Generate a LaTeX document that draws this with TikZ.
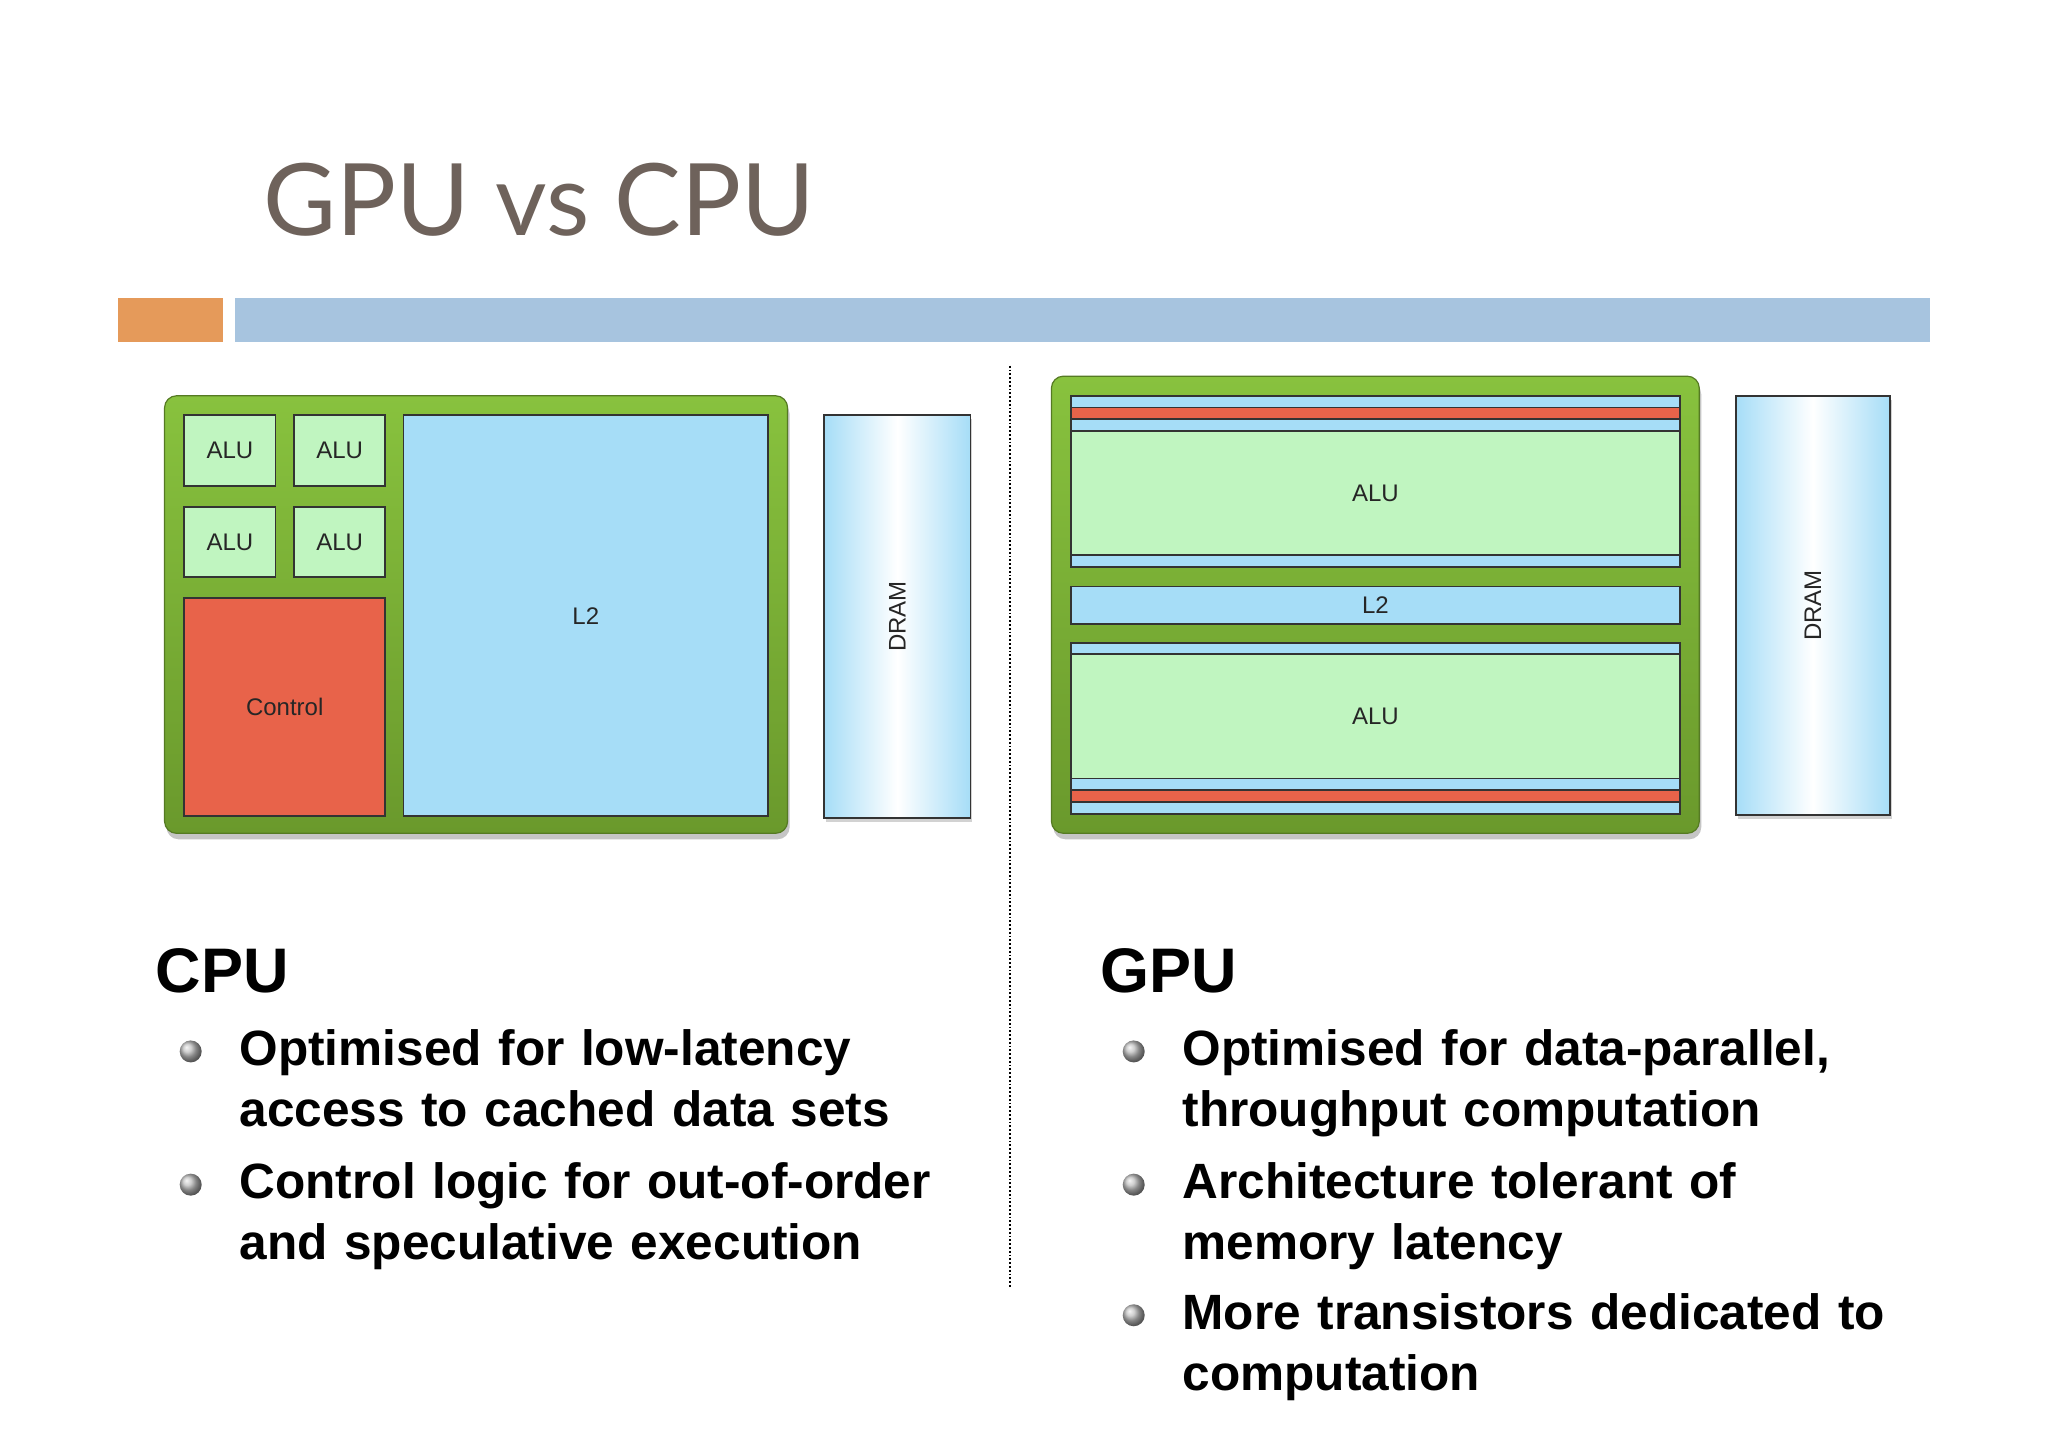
\documentclass[tikz,border=0pt]{standalone}
\usepackage{fontspec}
\setmainfont{Liberation Sans}
\newfontfamily\titlefont{Lato}
\usetikzlibrary{shadows}
\definecolor{titlec}{HTML}{6E625B}
\definecolor{orangebar}{HTML}{E59A5A}
\definecolor{bluebar}{HTML}{A7C4DF}
\definecolor{gtop}{HTML}{88C23E}
\definecolor{gbot}{HTML}{6A992C}
\definecolor{alug}{HTML}{C0F5C0}
\definecolor{cachb}{HTML}{A6DDF7}
\definecolor{ctrlr}{HTML}{E8634A}
\begin{document}
\begin{tikzpicture}[x=0.6533pt,y=-0.6533pt,
  chip/.style={draw=gbot!80!black,line width=0.6pt,rounded corners=6pt,top color=gtop,bottom color=gbot,drop shadow={shadow xshift=1pt,shadow yshift=-3pt,opacity=0.45}},
  blk/.style={draw=black!80,line width=0.9pt},
  alu/.style={blk,fill=alug},
  cach/.style={blk,fill=cachb},
  ctrl/.style={blk,fill=ctrlr},
  dram/.style={draw=black!80,line width=0.9pt,left color=cachb,right color=cachb,middle color=white,drop shadow={shadow xshift=1pt,shadow yshift=-2pt,opacity=0.35}},
  lbl/.style={font=\fontsize{12}{14}\selectfont,text=black!85},
  head/.style={font=\fontsize{31.5}{36}\bfseries\selectfont,anchor=base west},
  item/.style={font=\fontsize{24.8}{30.5}\bfseries\selectfont,anchor=north west,align=left,text width=430pt},
  bul/.style={circle,minimum size=11pt,inner sep=0pt,ball color=black!25,shading=ball}
]
\useasboundingbox (0,0) rectangle (1568,1108);
\fill[white] (0,0) rectangle (1568,1108);
\node[font=\titlefont\fontsize{50}{56}\selectfont,text=titlec,anchor=base west] (title) at (196,180) {GPU vs CPU};
\fill[orangebar] (90,228) rectangle (171,262);
\fill[bluebar] (180,228) rectangle (1478,262);
\draw[densely dotted,line width=0.9pt] (773,280) -- (773,985);
% CPU
\draw[chip] (126,303) rectangle (603,638);
\draw[alu] (141,318) rectangle node[lbl]{ALU} (211,372);
\draw[alu] (225,318) rectangle node[lbl]{ALU} (295,372);
\draw[alu] (141,388) rectangle node[lbl]{ALU} (211,442);
\draw[alu] (225,388) rectangle node[lbl]{ALU} (295,442);
\draw[ctrl] (141,458) rectangle node[lbl]{Control} (295,625);
\draw[cach] (309,318) rectangle node[lbl]{L2} (588,625);
\draw[dram] (631,318) rectangle node[lbl,rotate=90]{DRAM} (743,626);
% GPU
\draw[chip] (805,288) rectangle (1301,638);
\draw[cach] (820,303) rectangle (1286,312);
\draw[ctrl] (820,312) rectangle (1286,321);
\draw[cach] (820,321) rectangle (1286,330);
\draw[alu] (820,330) rectangle node[lbl]{ALU} (1286,425);
\draw[cach] (820,425) rectangle (1286,434);
\draw[cach] (820,449) rectangle node[lbl]{L2} (1286,478);
\draw[cach] (820,492) rectangle (1286,501);
\draw[alu] (820,501) rectangle node[lbl]{ALU} (1286,596);
\draw[cach] (820,596) rectangle (1286,605);
\draw[ctrl] (820,605) rectangle (1286,614);
\draw[cach] (820,614) rectangle (1286,623);
\draw[dram] (1329,303) rectangle node[lbl,rotate=90]{DRAM} (1447,624);
% text
\node[head] (cpuh) at (114,760) {CPU};
\node[head] (gpuh) at (837,760) {GPU};
\node[bul] (b1) at (146,805) {};
\node[item] (t1) at (178,783) {Optimised for low-latency\\access to cached data sets};
\node[bul] (b2) at (146,907) {};
\node[item] (t2) at (178,885) {Control logic for out-of-order\\and speculative execution};
\node[bul] (b3) at (868,805) {};
\node[item] (t3) at (900,783) {Optimised for data-parallel,\\throughput computation};
\node[bul] (b4) at (868,907) {};
\node[item] (t4) at (900,885) {Architecture tolerant of\\memory latency};
\node[bul] (b5) at (868,1007) {};
\node[item] (t5) at (900,985) {More transistors dedicated to\\computation};
\end{tikzpicture}
\end{document}
